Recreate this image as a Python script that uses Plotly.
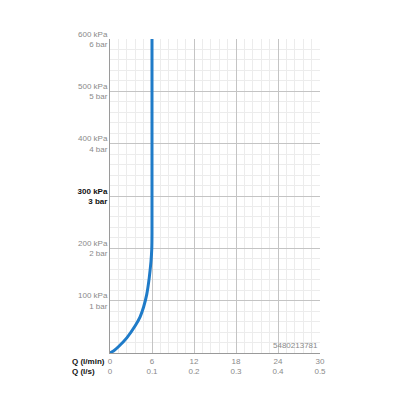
import plotly.graph_objects as go

# flow (l/min) vs pressure (kPa)
flow_lpm = [0, 0.5, 1.2, 2.4, 3.6, 4.3, 4.8, 5.25, 5.6, 5.85, 5.97, 6.0, 6.0]
pressure_kpa = [0, 4, 12, 29, 52, 69, 88, 112, 143, 174, 200, 230, 600]

x_ticks = [0, 6, 12, 18, 24, 30]
x_ticks_ls = ["0", "0.1", "0.2", "0.3", "0.4", "0.5"]
y_ticks = [100, 200, 300, 400, 500, 600]
y_bar = ["1 bar", "2 bar", "3 bar", "4 bar", "5 bar", "6 bar"]
code_label = "5480213781"

GREY = "#8a8a8a"
FONT = "Liberation Sans, Arial, sans-serif"

y_text = []
for v, b in zip(y_ticks, y_bar):
    if v == 300:
        y_text.append(f"<span style='color:#111'><b>{v} kPa<br>{b}</b></span>")
    else:
        y_text.append(f"{v} kPa<br>{b}")

x_text = [f"{a}<br>{b}" for a, b in zip(x_ticks, x_ticks_ls)]

fig = go.Figure()
fig.add_trace(go.Scatter(
    x=flow_lpm, y=pressure_kpa, mode="lines",
    line=dict(color="#1f7bc8", width=3, shape="spline", smoothing=0.4),
    hoverinfo="skip", showlegend=False,
))

fig.update_xaxes(
    range=[0, 30], tickvals=x_ticks, ticktext=x_text,
    showgrid=True, gridcolor="#c4c4c4", gridwidth=1,
    minor=dict(dtick=1.2, showgrid=True, gridcolor="#ececec", gridwidth=1),
    showline=True, linecolor="#9a9a9a", linewidth=1,
    zeroline=False, ticks="", ticklen=0,
    tickfont=dict(size=8, color=GREY, family=FONT),
    fixedrange=True,
)
fig.update_yaxes(
    range=[0, 600], tickvals=y_ticks, ticktext=y_text,
    showgrid=True, gridcolor="#c4c4c4", gridwidth=1,
    minor=dict(dtick=20, showgrid=True, gridcolor="#ececec", gridwidth=1),
    showline=True, linecolor="#9a9a9a", linewidth=1,
    zeroline=False, ticks="", ticklen=0,
    tickfont=dict(size=8, color=GREY, family=FONT),
    fixedrange=True,
)

fig.add_annotation(
    xref="paper", yref="paper", x=-0.012, y=-0.006,
    xanchor="right", yanchor="top", align="left",
    text="<b>Q (l/min)<br>Q (l/s)</b>", showarrow=False,
    font=dict(size=8, color="#111", family=FONT),
)
fig.add_annotation(
    xref="paper", yref="paper", x=0.998, y=0.004,
    xanchor="right", yanchor="bottom",
    text=code_label, showarrow=False,
    font=dict(size=8, color=GREY, family=FONT),
)

# page body has an 8px margin, so shrink the figure to keep the plot box in place
fig.update_layout(
    width=392, height=392,
    margin=dict(l=102, r=80, t=31, b=47),
    plot_bgcolor="white", paper_bgcolor="white",
)

fig.write_html("out.html")
